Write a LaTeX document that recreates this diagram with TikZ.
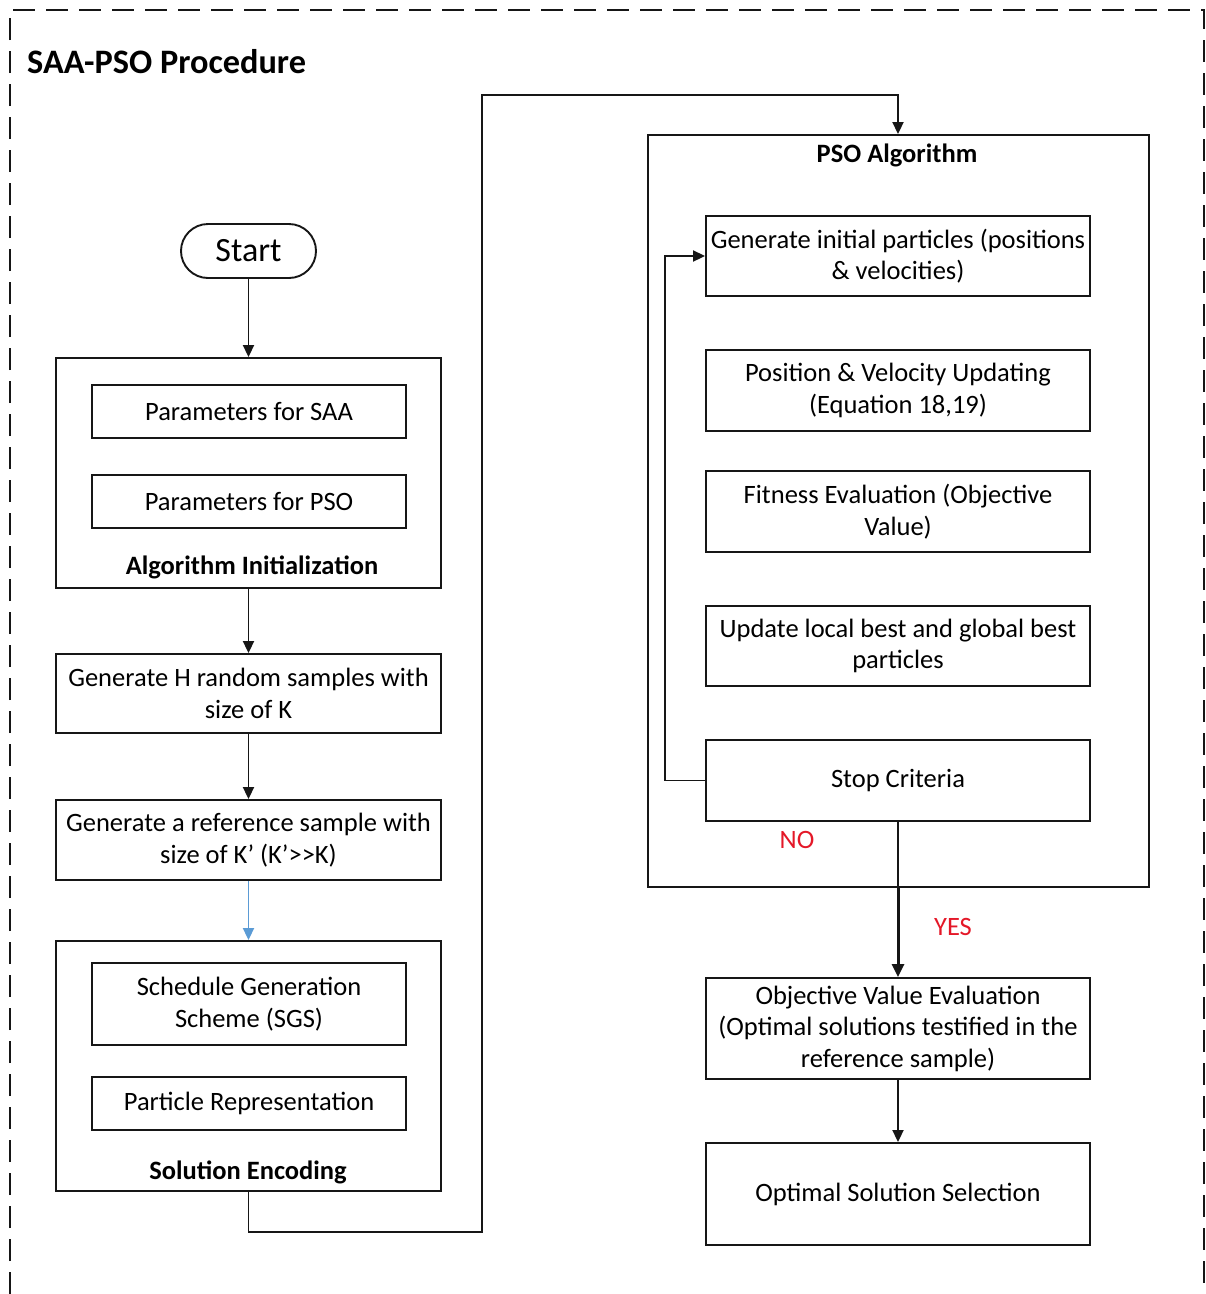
\documentclass[tikz,border=0pt]{standalone}
\usepackage{fontspec}
\setmainfont{Carlito}
\usetikzlibrary{arrows.meta,positioning}
\definecolor{ink}{RGB}{22,22,22}
\definecolor{flowblue}{RGB}{91,155,213}
\definecolor{answer}{RGB}{228,24,40}
\tikzset{
  box/.style={draw=ink, line width=1.9pt, rectangle, align=center, inner sep=2pt,
              font=\fontsize{26.5}{31.5}\selectfont},
  wide/.style={box, minimum width=385pt},
  inner/.style={box, minimum width=314pt},
  pbox/.style={box, minimum width=384pt},
  frame/.style={draw=ink, line width=1.9pt, rectangle, inner sep=0pt},
  heading/.style={font=\fontsize{26.5}{30}\selectfont\bfseries, inner sep=0pt},
  flow/.style={draw=ink, line width=1.9pt, -{Triangle[length=12pt,width=11pt]}},
  plain/.style={draw=ink, line width=1.9pt},
  answerlbl/.style={text=answer, font=\fontsize{26.5}{30}\selectfont, inner sep=0pt}
}
\begin{document}
\begin{tikzpicture}[x=1pt,y=-1pt]
\useasboundingbox (0,0) rectangle (1206,1294);
% outer dashed frame
\draw[ink, line width=1.7pt, dash pattern=on 22pt off 11pt] (10,1294) -- (10,10) -- (1204,10) -- (1204,1294);
\node[anchor=west, font=\fontsize{34.3}{40}\selectfont\bfseries, inner sep=0pt] (title) at (27,62) {SAA-PSO Procedure};

% left column
\node[draw=ink, line width=1.9pt, rounded corners=27pt, minimum width=135pt, minimum height=54pt,
      font=\fontsize{34}{40}\selectfont] (start) at (248.5,251) {Start};

\node[frame, minimum width=385pt, minimum height=230pt] (init) at (248.5,473) {};
\node[inner, minimum height=53pt] (psaa) at (249,411.5) {Parameters for SAA};
\node[inner, minimum height=53pt] (ppso) at (249,501.5) {Parameters for PSO};
\node[heading] (initlbl) at (252,567) {Algorithm Initialization};

\node[wide, minimum height=79pt] (genh) at (248.5,693.5) {Generate H random samples with\\size of K};
\node[wide, minimum height=80pt] (genref) at (248.5,840) {Generate a reference sample with\\size of K’ (K’>{}>K)};

\node[frame, minimum width=385pt, minimum height=250pt] (enc) at (248.5,1066) {};
\node[inner, minimum height=82pt] (sgs) at (249,1004) {Schedule Generation\\Scheme (SGS)};
\node[inner, minimum height=53pt] (prep) at (249,1103.5) {Particle Representation};
\node[heading] (enclbl) at (248,1172) {Solution Encoding};

% right column
\node[frame, minimum width=501pt, minimum height=752pt] (pso) at (898.5,511) {};
\node[heading] (psolbl) at (897,155) {PSO Algorithm};
\node[pbox, minimum height=80pt] (geninit) at (898,256) {Generate initial particles (positions\\\& velocities)};
\node[pbox, minimum height=81pt] (posvel) at (898,390.5) {Position \& Velocity Updating\\(Equation 18,19)};
\node[pbox, minimum height=81pt] (fit) at (898,511.5) {Fitness Evaluation (Objective\\Value)};
\node[pbox, minimum height=80pt] (upd) at (898,646) {Update local best and global best\\particles};
\node[pbox, minimum height=81pt] (stop) at (898,780.5) {Stop Criteria};
\node[answerlbl] (no) at (797,840) {NO};
\node[answerlbl] (yes) at (953,927) {YES};

\node[pbox, minimum height=101pt] (obj) at (898,1028.5) {Objective Value Evaluation\\(Optimal solutions testified in the\\reference sample)};
\node[pbox, minimum height=102pt] (opt) at (898,1194) {Optimal Solution Selection};

% connectors
\draw[flow] (start) -- (start.south |- init.north);
\draw[flow] (init.south -| start.south) -- (genh.north -| start.south);
\draw[flow] (genh.south -| start.south) -- (genref.north -| start.south);
\draw[flow, draw=flowblue] (genref.south -| start.south) -- (enc.north -| start.south);

\coordinate (r1) at (482,1232);
\coordinate (r2) at (482,95);
\draw[flow] (enc.south -| start.south) |- (r1) -- (r2) -| (pso.north -| stop.north);

\coordinate (loopx) at (665,0);
\draw[flow] (stop.west) -- (stop.west -| loopx) |- (geninit.west);

\draw[plain] (stop.south) -- (stop.south |- pso.south);
\draw[draw=ink, line width=3pt, -{Triangle[length=13pt,width=12pt]}] (stop.south |- pso.south) -- (obj.north);
\draw[flow] (obj) -- (opt);
\end{tikzpicture}
\end{document}
